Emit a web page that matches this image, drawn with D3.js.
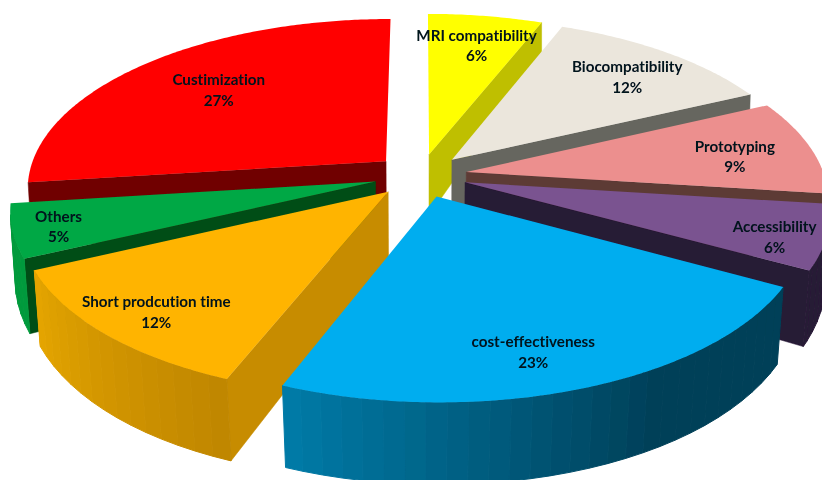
<!DOCTYPE html>
<html><head><meta charset="utf-8">
<script src="https://cdn.jsdelivr.net/npm/d3@7"></script>
<style>html,body{margin:0;padding:0;background:#fff;overflow:hidden}svg{display:block}text{font-family:Lato,"Open Sans",sans-serif;font-weight:700;font-size:15.2px;fill:#03121c;text-anchor:middle;font-variant-ligatures:none}</style>
</head><body>
<svg id="c" width="822" height="480"><defs><filter id="soft" x="0" y="0" width="100%" height="100%"><feGaussianBlur stdDeviation="0.45"/></filter></defs></svg>
<script>
// Data
const categories = ["MRI compatibility","Biocompatibility","Prototyping","Accessibility","cost-effectiveness","Short prodcution time","Others","Custimization"];
const values = [6,12,9,6,23,12,5,27];
// Styles
const topColors  = ["#ffff00","#ebe6dc","#ec8f8e","#7a5390","#00adef","#ffb400","#00a844","#ff0000"];
const cutColors  = ["#bfbf00","#66665e","#5d3a35","#271a36","#004058","#c78c00","#004d14","#700000"];
const rimStart   = ["#bfbf00","#66665e","#5d3a35","#271a36","#004058","#bf8600","#009a3c","#700000"];
const rimEnd     = ["#bfbf00","#66665e","#5d3a35","#271a36","#007ba8","#e5a500","#009a3c","#700000"];
const labelRadius = [.76,.77,.77,.87,.82,.85,.88,.69];
const labelTurn   = [.8,1.8,2.2,2.9,3.7,-1.3,-.9,.6];
const paintOrder  = [7,0,1,2,3,6,5,4];
const explode = 0.13;

const topPlane  = {cx:420.5, cy:175.5, bx:358, ay:167.8, kx:.1515, ky:.1515};
const basePlane = {cx:420.5, cy:240, bx:354.6, ay:193.5, kx:.141, ky:.1};
const project = (pl,[u,v]) => [pl.cx+pl.bx*u/(1-pl.kx*v), pl.cy+pl.ay*v/(1-pl.ky*v)];

const svg = d3.select("#c");
const line = d3.line();
const arcs = d3.pie().sort(null).startAngle(0).endAngle(2*Math.PI)(values);

const world = (d,a,r) => {
  const mid = (d.startAngle+d.endAngle)/2;
  return [explode*Math.sin(mid)+r*Math.sin(a), -explode*Math.cos(mid)-r*Math.cos(a)];
};
const g = svg.append("g").attr("filter","url(#soft)");
paintOrder.forEach(i => {
  const d = arcs[i];
  const steps = d3.range(d.startAngle, d.endAngle, 0.05).concat([d.endAngle]);
  const apex = world(d,0,0);
  // radial cut faces, only those turned towards the viewer
  const cuts = [];
  if (Math.sin(d.startAngle) < -1e-6) cuts.push(d.startAngle);
  if (Math.sin(d.endAngle) > 1e-6) cuts.push(d.endAngle);
  cuts.forEach(a => {
    const p = world(d,a,1);
    g.append("path").attr("fill",cutColors[i]).attr("stroke",cutColors[i]).attr("stroke-width",.5)
      .attr("d",line([project(topPlane,apex),project(topPlane,p),project(basePlane,p),project(basePlane,apex)])+"Z");
  });
  // outer wall, in narrow shaded bands
  const shade = d3.scaleLinear().domain(i===4?[0,.36,1]:[0,1])
     .range(i===4?[rimStart[i],rimStart[i],rimEnd[i]]:[rimStart[i],rimEnd[i]]);
  d3.pairs(steps).forEach(([a0,a1]) => {
    const am = (a0+a1)/2, pm = world(d,am,1);
    const eyeV = 1/topPlane.ky;
    const facing = Math.sin(am)*(-pm[0]) + (-Math.cos(am))*(eyeV-pm[1]);
    if (facing <= 0) return;
    const p0 = world(d,a0,1), p1 = world(d,a1,1);
    const c = shade((am-d.startAngle)/(d.endAngle-d.startAngle));
    g.append("path").attr("fill",c).attr("stroke",c).attr("stroke-width",1)
      .attr("d",line([project(topPlane,p0),project(topPlane,p1),project(basePlane,p1),project(basePlane,p0)])+"Z");
  });
  // top surface
  const rim = d3.range(d.startAngle, d.endAngle, 0.01).concat([d.endAngle]).map(a => project(topPlane,world(d,a,1)));
  g.append("path").attr("fill",topColors[i])
    .attr("d",line([project(topPlane,apex),...rim])+"Z");
});
// labels
arcs.forEach((d,i) => {
  const a = (d.startAngle+d.endAngle)/2 + labelTurn[i]*Math.PI/180;
  const [x,y] = project(topPlane,world(d,a,labelRadius[i]));
  const t = svg.append("text").attr("x",x).attr("y",y).attr("filter","url(#soft)");
  t.append("tspan").attr("x",x).attr("dy",-5.5).text(categories[i]);
  t.append("tspan").attr("x",x).attr("dy",20.5).text(values[i]+"%");
});
</script>
</body></html>
